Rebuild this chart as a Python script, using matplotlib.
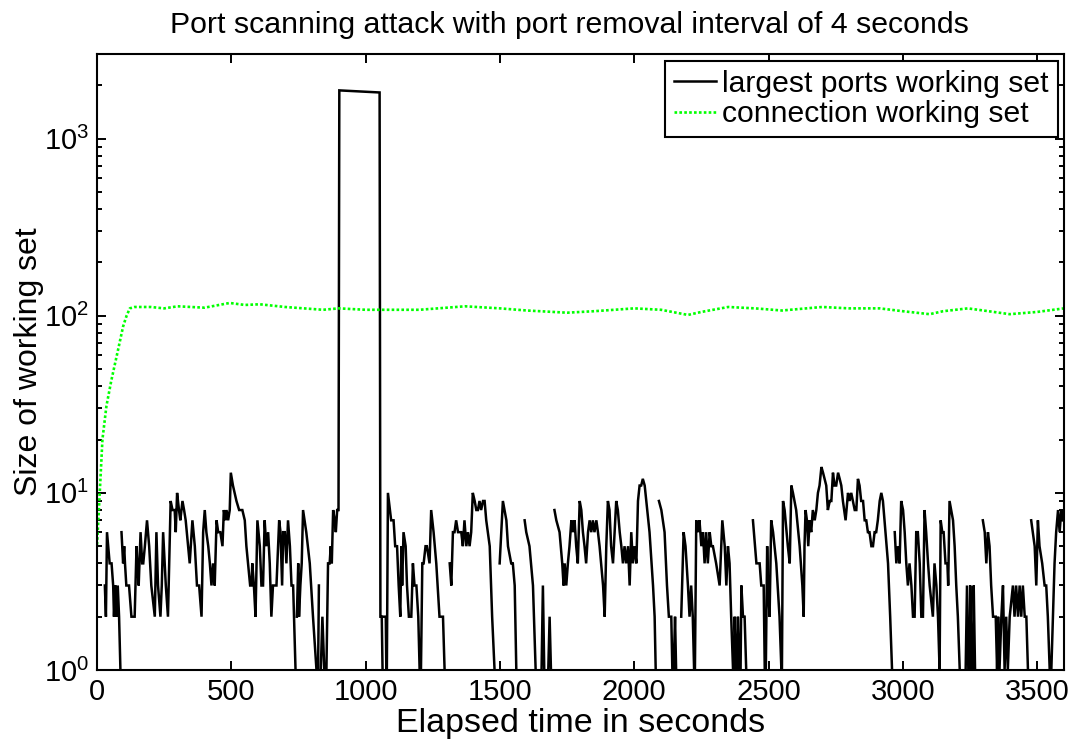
import numpy as np
import matplotlib
matplotlib.use("Agg")
import matplotlib.pyplot as plt
from matplotlib.ticker import LogLocator, FixedLocator, NullLocator, LogFormatterMathtext

plt.rcParams['font.family'] = ['Liberation Sans', 'DejaVu Sans']
plt.rcParams['mathtext.default'] = 'regular'

# --- connection working set (time in s, size) ---
conn_t = [0, 10, 20, 35, 53, 78, 97, 110, 122, 140, 200, 250, 300, 400, 494, 550,
          606, 700, 841, 900, 1000, 1090, 1200, 1370, 1500, 1600, 1750, 1850, 2000,
          2100, 2200, 2250, 2350, 2450, 2550, 2700, 2800, 2914, 3000, 3100, 3150,
          3242, 3300, 3398, 3500, 3600]
conn_v = [5.1, 10, 20, 31, 43, 64, 87, 100, 110, 112, 112, 110, 113, 111, 118, 115,
          116, 112, 108, 110, 108, 108, 108, 113, 110, 107, 104, 106, 110,
          108, 101, 105, 112, 110, 107, 112, 110, 110, 106, 102, 106,
          110, 107, 102, 105, 110]

# --- largest ports working set (time in s, size; 0 = empty set) ---
ports_t = [29, 33, 37, 47, 54, 60, 63, 68, 72, 77, 82, 87, 89,
           91, 97, 101, 104, 109, 119, 128, 140, 147, 150, 155, 162, 168, 172, 178,
           186, 194, 202, 215, 221, 227, 236, 241, 246, 256, 264, 274, 281, 289, 293,
           298, 305, 310, 318, 324, 330, 339, 345, 355, 364, 372, 380, 389, 395, 401,
           407, 414, 420, 426, 432, 438, 445, 451, 459, 467, 472, 478, 482, 488, 494,
           498, 506, 519, 529, 541, 550, 556, 562, 570, 575, 578, 584, 590, 597, 606,
           612, 618, 624, 630, 637, 643, 649, 655, 668, 678, 683, 689, 693, 699, 705,
           711, 718, 724, 730, 739, 740,
           744, 749, 752, 757, 762, 767, 779, 792, 804, 817, 819,
           823, 826, 828,
           833, 839, 846, 849,
           854, 860, 866, 870, 874, 879, 885, 889, 894, 899, 902, 1052,
           1055, 1060, 1063, 1064, 1068, 1075, 1077, 1078,
           1079, 1083, 1095, 1104, 1110, 1117, 1123, 1129, 1133, 1136, 1141, 1149,
           1154, 1161, 1170, 1176, 1182, 1189, 1196, 1201, 1202,
           1206, 1211, 1216, 1223, 1228, 1238, 1244, 1253, 1263, 1275, 1288, 1294, 1295,
           1313, 1319, 1325, 1331, 1337, 1344, 1350, 1356, 1362, 1368, 1375, 1381,
           1387, 1393, 1399, 1406, 1412, 1418, 1424, 1430, 1437, 1443, 1449, 1462,
           1471, 1480, 1481,
           1499, 1505, 1511, 1517, 1524, 1530, 1542, 1548, 1555, 1561, 1562,
           1592, 1598, 1610, 1623, 1633, 1634,
           1655, 1660, 1665, 1666,
           1680, 1685, 1690, 1691,
           1703, 1710, 1722, 1732, 1737, 1741, 1747, 1753, 1759, 1766, 1772, 1778,
           1784, 1790, 1797, 1803, 1809, 1815, 1821, 1828, 1834, 1840, 1846, 1852,
           1859, 1865, 1871, 1884, 1890, 1896, 1902, 1908, 1914, 1921, 1933, 1939,
           1946, 1952, 1958, 1964, 1970, 1977, 1983, 1989, 1995, 2001, 2008, 2014,
           2020, 2026, 2032, 2039, 2045, 2057, 2070, 2076, 2080, 2081,
           2092, 2101, 2113, 2122, 2129, 2138, 2142, 2143,
           2147, 2152, 2156, 2158,
           2175, 2184, 2191, 2200, 2206, 2212, 2218, 2223, 2225,
           2226, 2231, 2237, 2243, 2250, 2256, 2262, 2268, 2274, 2281, 2287, 2293,
           2305, 2318, 2328, 2337, 2343, 2349, 2355, 2361, 2368, 2369,
           2371, 2374, 2380, 2381,
           2384, 2386, 2392, 2394,
           2396, 2399, 2405, 2411, 2417, 2419,
           2442, 2455, 2467, 2473, 2482, 2486, 2487,
           2490, 2495, 2498, 2504, 2510, 2517, 2529, 2541, 2548, 2549,
           2550, 2554, 2560, 2572, 2579, 2585, 2591, 2603, 2616, 2626, 2631, 2634,
           2638, 2643, 2648, 2653, 2659, 2665, 2672, 2678, 2684, 2690, 2697, 2703,
           2715, 2721, 2728, 2734, 2740, 2746, 2752, 2759, 2765, 2771, 2777, 2787,
           2796, 2802, 2808, 2814, 2821, 2827, 2833, 2839, 2845, 2852, 2858, 2864,
           2870, 2876, 2883, 2889, 2895, 2901, 2907, 2914, 2920, 2926, 2932, 2945,
           2953, 2960, 2961,
           2970, 2976, 2982, 2988, 2994, 3001, 3007, 3013, 3019, 3025, 3032, 3038,
           3044, 3050, 3056, 3063, 3069, 3075, 3081, 3087, 3094, 3100, 3112, 3118,
           3125, 3131, 3137, 3141, 3147, 3152, 3159, 3166, 3169, 3174, 3180, 3187,
           3193, 3199, 3205, 3212, 3213,
           3234, 3239, 3244, 3245,
           3249, 3251, 3256, 3257,
           3261, 3264, 3269, 3270,
           3298, 3305, 3311, 3317, 3323, 3329, 3336, 3346, 3351, 3355, 3360, 3367,
           3373, 3379, 3385, 3391, 3398, 3410, 3416, 3422, 3429, 3435, 3441, 3447,
           3454, 3460, 3466, 3467,
           3478, 3491, 3497, 3503, 3509, 3519, 3528, 3534, 3540, 3547, 3548,
           3553, 3559, 3565, 3571, 3578, 3584, 3590, 3596]
ports_v = [3, 2, 6, 4, 4, 3, 2, 3, 2, 3, 2, 1, 0,
           6, 4, 5, 4, 3, 3, 2, 2, 5, 4, 3, 6, 4, 4, 5,
           7, 5, 3, 2, 6, 3, 2, 3, 6, 3, 2, 9, 8, 8, 6,
           10, 8, 7, 9, 8, 7, 5, 4, 7, 5, 3, 3, 2, 6, 8,
           6, 5, 4, 3, 4, 3, 7, 6, 6, 5, 8, 7, 8, 7, 8,
           13, 11, 9, 8, 8, 7, 5, 4, 3, 3, 4, 3, 2, 7, 5,
           3, 3, 7, 5, 6, 4, 2, 3, 3, 7, 6, 3, 6, 6, 4,
           7, 5, 3, 3, 1, 0,
           2, 4, 2, 3, 4, 8, 6, 4, 2, 1, 0,
           1, 3, 0,
           1, 2, 1, 0,
           1, 4, 4, 5, 4, 8, 7, 6, 8, 8, 1870, 1820,
           2, 2, 1, 0, 2, 2, 1, 0,
           1, 10, 7, 7, 5, 5, 3, 2, 5, 3, 6, 5,
           3, 2, 2, 4, 3, 3, 2, 1, 0,
           1, 4, 4, 5, 5, 4, 8, 6, 4, 2, 2, 1, 0,
           4, 3, 6, 6, 7, 6, 6, 6, 5, 7, 5, 6,
           5, 6, 10, 9, 8, 8, 9, 8, 9, 9, 7, 5,
           2, 1, 0,
           4, 6, 9, 8, 7, 5, 4, 4, 3, 1, 0,
           7, 6, 5, 3, 1, 0,
           1, 3, 1, 0,
           1, 2, 1, 0,
           8, 7, 6, 4, 3, 4, 3, 4, 5, 7, 6, 7,
           5, 4, 9, 8, 6, 5, 4, 6, 7, 6, 7, 6,
           7, 6, 5, 3, 2, 5, 9, 8, 5, 4, 9, 8,
           6, 5, 4, 5, 4, 5, 3, 6, 4, 5, 4, 9,
           11, 11, 12, 11, 9, 6, 3, 2, 1, 0,
           9, 8, 6, 3, 2, 2, 1, 0,
           1, 2, 1, 0,
           2, 6, 5, 3, 2, 3, 2, 1, 0,
           1, 7, 6, 7, 5, 6, 4, 6, 4, 6, 5, 5,
           4, 3, 7, 5, 3, 5, 4, 2, 1, 0,
           1, 2, 1, 0,
           1, 2, 1, 0,
           1, 3, 2, 2, 1, 0,
           7, 4, 4, 3, 3, 1, 0,
           1, 5, 3, 2, 7, 6, 4, 2, 1, 0,
           1, 9, 8, 5, 4, 11, 10, 8, 5, 3, 2, 5,
           8, 7, 5, 7, 6, 8, 7, 8, 10, 11, 14, 13,
           11, 8, 9, 9, 13, 11, 11, 13, 12, 11, 9, 7,
           10, 9, 10, 9, 8, 8, 12, 11, 9, 9, 7, 7,
           6, 6, 5, 5, 6, 6, 7, 9, 10, 9, 7, 4,
           2, 1, 0,
           6, 4, 5, 4, 9, 8, 6, 4, 3, 4, 3, 2,
           2, 6, 6, 4, 2, 2, 8, 6, 4, 3, 2, 4,
           3, 2, 1, 7, 6, 6, 4, 4, 3, 9, 8, 7,
           5, 3, 2, 1, 0,
           1, 3, 1, 0,
           1, 3, 1, 0,
           1, 3, 1, 0,
           7, 6, 4, 6, 5, 3, 2, 2, 1, 2, 1, 2,
           3, 1, 2, 1, 2, 3, 2, 3, 2, 3, 2, 3,
           2, 2, 1, 0,
           7, 5, 3, 7, 5, 4, 3, 3, 2, 1, 0,
           1, 2, 4, 6, 8, 6, 8, 7]

title_text = 'Port scanning attack with port removal interval of 4 seconds'
xlabel_text = 'Elapsed time in seconds'
ylabel_text = 'Size of working set'
legend_labels = ['largest ports working set', 'connection working set']
xticks = [0, 500, 1000, 1500, 2000, 2500, 3000, 3500]

fig = plt.figure(figsize=(10.76, 7.42), dpi=100)
ax = fig.add_axes([0.0902, 0.0970, 0.8986, 0.8302])

pt = np.array(ports_t, dtype=float)
pv = np.array(ports_v, dtype=float)
pv_masked = np.ma.masked_where(pv <= 0, pv)

ax.plot(pt, pv_masked, color='black', lw=1.8, label=legend_labels[0],
        solid_joinstyle='miter')
ax.plot(conn_t, conn_v, color='#00ff00', lw=1.9, linestyle=(0, (1.0, 0.85)),
        label=legend_labels[1])

ax.set_yscale('log')
ax.set_xlim(0, 3600)
ax.set_ylim(1, 3000)

ax.xaxis.set_major_locator(FixedLocator(xticks))
ax.xaxis.set_minor_locator(NullLocator())
ax.yaxis.set_major_locator(LogLocator(base=10, numticks=10))
ax.yaxis.set_minor_locator(LogLocator(base=10, subs=np.arange(2, 10), numticks=20))
ax.yaxis.set_major_formatter(LogFormatterMathtext())

for s in ax.spines.values():
    s.set_linewidth(1.5)
ax.tick_params(which='both', direction='in', top=True, right=True,
               labelsize=21, width=1.4, colors='black')
ax.tick_params(which='major', length=6.5, pad=6)
ax.tick_params(which='minor', length=3.6)

ax.set_title(title_text, fontsize=21.8, pad=15, x=0.489)
ax.set_xlabel(xlabel_text, fontsize=24.5, labelpad=1)
ax.set_ylabel(ylabel_text, fontsize=23, labelpad=0)

leg = ax.legend(loc='upper right', bbox_to_anchor=(1058 / 1076, 1 - 61 / 742),
                bbox_transform=fig.transFigure, borderaxespad=0, fontsize=21.7,
                handlelength=1.4, handletextpad=0.2, labelspacing=0.08,
                borderpad=0.3, fancybox=False, framealpha=1, edgecolor='black')
leg.get_frame().set_linewidth(1.5)

fig.savefig('out.png', dpi=100)
